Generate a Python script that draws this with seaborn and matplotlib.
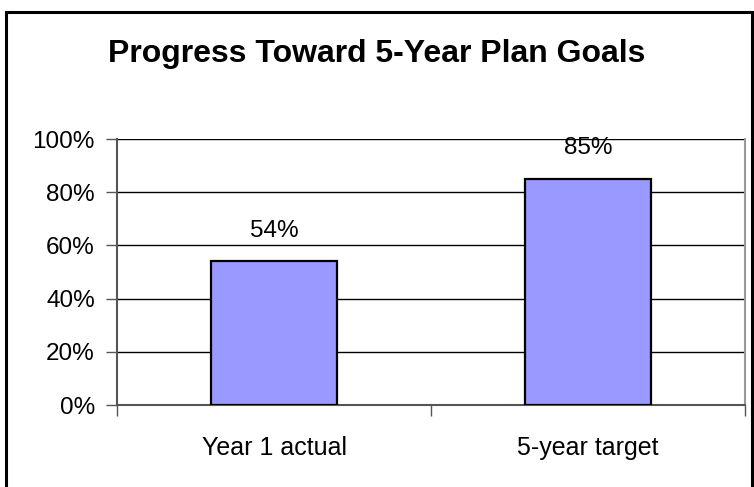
import matplotlib
matplotlib.use("Agg")
import matplotlib.pyplot as plt
import matplotlib.ticker as mticker
from matplotlib.patches import Rectangle
import pandas as pd
import seaborn as sns

categories = ["Year 1 actual", "5-year target"]
values = [0.54, 0.85]
y_ticks = [0, 0.2, 0.4, 0.6, 0.8, 1.0]

sns.set_theme(style="white")
plt.rcParams["font.family"] = ["Liberation Sans", "DejaVu Sans"]

df = pd.DataFrame({"category": categories, "value": values})

fig = plt.figure(figsize=(7.54, 4.87), dpi=100)
fig.patch.set_facecolor("white")

# outer chart frame
fig.patches.append(Rectangle((6 / 754, -0.05), 746 / 754, 1 - 12 / 487 + 0.05,
                             transform=fig.transFigure, fill=False,
                             edgecolor="black", linewidth=2.2, zorder=0))

ax = fig.add_axes([117 / 754, 1 - 405 / 487, (745 - 117) / 754, (405 - 139) / 487])
sns.barplot(data=df, x="category", y="value", ax=ax, color="#9999FF",
            saturation=1, width=0.4, edgecolor="black", linewidth=1.6, zorder=3)

ax.set_ylim(0, 1)
ax.set_xlim(-0.5, 1.5)
ax.set_yticks(y_ticks)
ax.yaxis.set_major_formatter(mticker.PercentFormatter(1.0, decimals=0))
ax.set_xlabel("")
ax.set_ylabel("")

for yv in y_ticks[1:]:
    ax.axhline(yv, color="black", linewidth=1.0, zorder=1)

for s in ["left", "bottom"]:
    ax.spines[s].set_color("#555555")
    ax.spines[s].set_linewidth(1.5)
ax.spines["right"].set_color("#999999")
ax.spines["right"].set_linewidth(1.5)
ax.spines["top"].set_visible(False)

ax.tick_params(axis="y", which="major", direction="out", length=8, width=1,
               color="#555555", labelsize=17.5, pad=8, left=True)
ax.tick_params(axis="x", which="major", length=0, labelsize=18, pad=22)
ax.set_xticks([-0.5, 0.5, 1.5], minor=True)
ax.tick_params(axis="x", which="minor", direction="out", length=8, width=1,
               color="#555555", bottom=True)
for lbl in ax.get_yticklabels() + ax.get_xticklabels():
    lbl.set_color("black")

for i, v in enumerate(values):
    ax.annotate(f"{v * 100:.0f}%", (i, v), xytext=(0, 14), textcoords="offset points",
                ha="center", va="bottom", fontsize=17.5, color="black")

fig.text(0.5, 1 - 62 / 487, "Progress Toward 5-Year Plan Goals", ha="center",
         va="baseline", fontsize=23, fontweight="bold", color="black")

fig.savefig("out.png", dpi=100)
